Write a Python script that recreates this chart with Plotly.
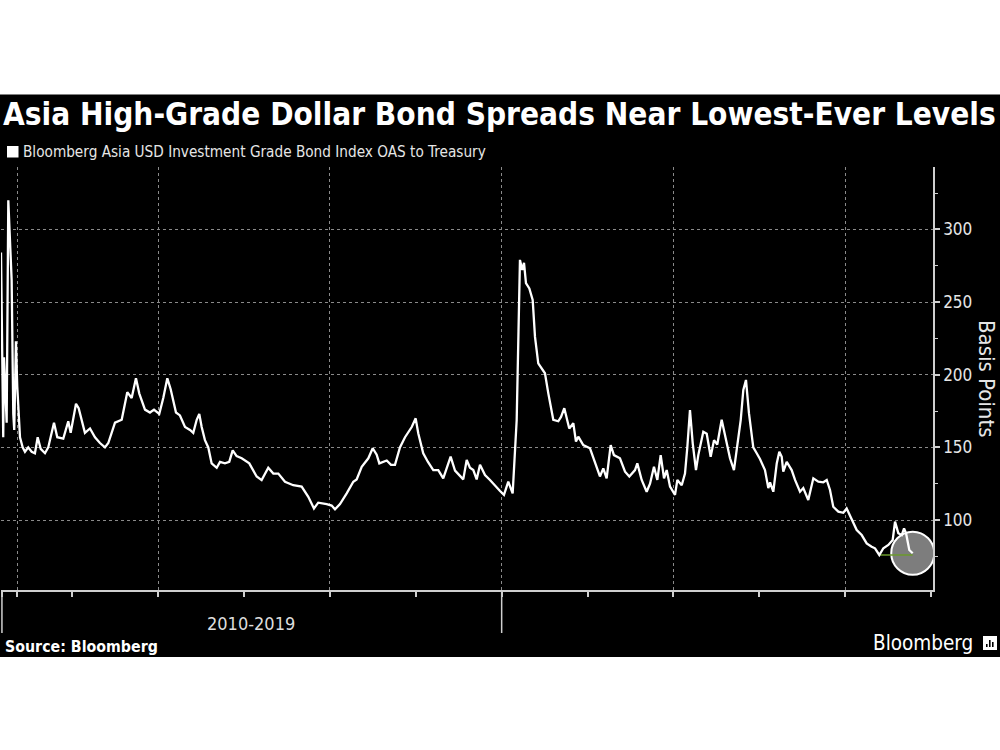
import plotly.graph_objects as go

# ---- data ----
years = [
    2014.172, 2014.198, 2014.207, 2014.222, 2014.238, 2014.257, 2014.276, 2014.296, 2014.315, 2014.326,
    2014.346, 2014.361, 2014.393, 2014.424, 2014.451, 2014.489, 2014.529, 2014.567, 2014.599, 2014.634,
    2014.684, 2014.722, 2014.789, 2014.827, 2014.897, 2014.955, 2014.983, 2015.045, 2015.076, 2015.149,
    2015.208, 2015.266, 2015.324, 2015.382, 2015.421, 2015.499, 2015.577, 2015.642, 2015.693, 2015.743,
    2015.782, 2015.848, 2015.906, 2015.953, 2016.014, 2016.061, 2016.108, 2016.147, 2016.209, 2016.255,
    2016.314, 2016.372, 2016.410, 2016.450, 2016.480, 2016.508, 2016.546, 2016.585, 2016.624, 2016.683,
    2016.721, 2016.779, 2016.829, 2016.869, 2016.915, 2016.974, 2017.062, 2017.148, 2017.206, 2017.283,
    2017.342, 2017.400, 2017.478, 2017.574, 2017.672, 2017.749, 2017.815, 2017.865, 2017.963, 2018.021,
    2018.060, 2018.118, 2018.196, 2018.273, 2018.312, 2018.371, 2018.448, 2018.499, 2018.545, 2018.576,
    2018.662, 2018.712, 2018.758, 2018.816, 2018.875, 2018.953, 2018.999, 2019.029, 2019.087, 2019.142,
    2019.204, 2019.262, 2019.320, 2019.360, 2019.406, 2019.457, 2019.515, 2019.553, 2019.593, 2019.631,
    2019.670, 2019.709, 2019.748, 2019.806, 2019.864, 2019.942, 2019.981, 2020.027, 2020.077, 2020.128,
    2020.155, 2020.175, 2020.196, 2020.213, 2020.240, 2020.260, 2020.283, 2020.322, 2020.361, 2020.388,
    2020.426, 2020.466, 2020.504, 2020.543, 2020.601, 2020.659, 2020.691, 2020.729, 2020.787, 2020.834,
    2020.865, 2020.892, 2020.950, 2021.028, 2021.086, 2021.144, 2021.183, 2021.222, 2021.269, 2021.307,
    2021.377, 2021.436, 2021.486, 2021.552, 2021.579, 2021.630, 2021.688, 2021.727, 2021.773, 2021.812,
    2021.851, 2021.890, 2021.921, 2021.960, 2022.018, 2022.045, 2022.096, 2022.134, 2022.161, 2022.192,
    2022.224, 2022.262, 2022.289, 2022.347, 2022.387, 2022.433, 2022.472, 2022.510, 2022.561, 2022.600,
    2022.658, 2022.704, 2022.736, 2022.783, 2022.813, 2022.844, 2022.879, 2022.929, 2022.969, 2023.007,
    2023.065, 2023.104, 2023.124, 2023.162, 2023.202, 2023.232, 2023.260, 2023.278, 2023.318, 2023.376,
    2023.415, 2023.473, 2023.511, 2023.569, 2023.628, 2023.686, 2023.744, 2023.784, 2023.822, 2023.860,
    2023.919, 2023.977, 2024.016, 2024.075, 2024.133, 2024.191, 2024.249, 2024.307, 2024.346, 2024.396,
    2024.443, 2024.501, 2024.552, 2024.579, 2024.617, 2024.657, 2024.684, 2024.707, 2024.745, 2024.785,
]
spread_bp = [
    284, 157, 212, 187, 167, 320, 290, 265, 173, 162,
    223, 192, 157, 150, 147, 150, 147, 146, 157, 149,
    146, 150, 167, 157, 156, 168, 160, 180, 177, 160,
    163, 157, 153, 150, 153, 167, 169, 188, 184, 197.5,
    187, 176, 174, 176, 173, 184, 197.5, 190, 174, 172,
    164, 162, 160, 169, 173, 164, 155, 150, 139, 136,
    140, 139, 140, 148, 144, 142.5, 139, 130, 127.5, 136,
    132, 132, 126.4, 124, 123, 116, 108, 112, 111, 110,
    107.4, 111, 118.4, 126.4, 128, 136.7, 142.5, 149.4, 145, 139,
    141, 138, 138, 150, 157, 164, 170, 159.7, 146, 140,
    134.4, 134.4, 128.7, 136, 143.6, 134, 130, 128, 141.3, 136,
    134.4, 128, 138, 131, 127.6, 122, 120, 117.3, 126.4, 118.4,
    143.6, 169, 230, 279, 272, 277, 263, 259.4, 251.4, 226,
    207.8, 204.4, 201, 187.2, 169, 168, 171, 177, 163, 166.6,
    154, 157.4, 151.6, 149.4, 139, 130, 135.6, 128.7, 151.6, 144.7,
    142.5, 133.3, 130, 134.4, 139, 127.6, 119.5, 125, 136.7, 127.6,
    144.7, 128.7, 134.4, 123, 117.3, 127.6, 124, 132, 150, 175.7,
    152.8, 134.4, 144.7, 160.8, 159.4, 143.6, 155, 152, 169, 157.4,
    142.5, 134.4, 150, 169, 189.5, 196.4, 173.4, 150, 146, 142,
    134.4, 122, 126, 119.5, 139, 147, 143.6, 133.3, 140, 134.4,
    127.6, 119.5, 122, 113.8, 128.7, 126.4, 126, 127.6, 120.7, 109.2,
    105.8, 105, 108, 100, 93.2, 89.7, 84, 81.7, 80.6, 76,
    80.6, 82.9, 86.3, 98.9, 91, 89.7, 94.3, 91, 79.4, 77.2,
]
y_ticks = [100, 150, 200, 250, 300]
x_grid_ticks = [2014.183, 2014.361, 2016, 2018, 2020, 2022, 2024]
x_minor_ticks = [2015, 2017, 2019, 2021, 2023, 2025]
decade_marks = [2014.183, 2020]

title_text = "Asia High-Grade Dollar Bond Spreads Near Lowest-Ever Levels"
legend_text = "Bloomberg Asia USD Investment Grade Bond Index OAS to Treasury"
axis_title = "Basis Points"
decade_label = "2010-2019"
source_text = "Source: Bloomberg"
brand_text = "Bloomberg"

# ---- layout geometry ----
W, H = 1000, 750
ML, MR, MT, MB = 1, 67, 167, 160
PW, PH = W - ML - MR, H - MT - MB

def px_x(x):
    return (x - ML) / PW

def px_y(y):
    return (H - MB - y) / PH

FONT = "DejaVu Sans Condensed, DejaVu Sans"
AXIS_COL = "#cfcfcf"
GRID_COL = "#8a8a8a"

fig = go.Figure()

# marker line from lowest point to last point
i_min = spread_bp.index(min(spread_bp))
fig.add_trace(go.Scatter(
    x=[years[i_min], years[-1]], y=[spread_bp[i_min], spread_bp[i_min]],
    mode="lines", line=dict(color="#6b9a2c", width=1.6), hoverinfo="skip"))

fig.add_trace(go.Scatter(
    x=years, y=spread_bp, mode="lines",
    line=dict(color="white", width=2.3), name=legend_text))

shapes = [
    # black panel
    dict(type="rect", xref="paper", yref="paper",
         x0=px_x(-5), x1=px_x(1005), y0=px_y(657), y1=px_y(94.5),
         fillcolor="black", line=dict(width=0), layer="below"),
    # legend swatch
    dict(type="rect", xref="paper", yref="paper",
         x0=px_x(7), x1=px_x(18.5), y0=px_y(157.5), y1=px_y(146),
         fillcolor="white", line=dict(width=0)),
    # highlight circle at last point
    dict(type="circle", xref="x", yref="y", xsizemode="pixel", ysizemode="pixel",
         xanchor=years[-1], yanchor=spread_bp[-1],
         x0=-21.5, x1=21.5, y0=-21.5, y1=21.5,
         fillcolor="#7d7d7d", line=dict(color="white", width=2), layer="below"),
    # logo icon
    dict(type="rect", xref="paper", yref="paper",
         x0=px_x(983), x1=px_x(997), y0=px_y(650), y1=px_y(636),
         fillcolor="white", line=dict(width=0)),
]
for bx, top in [(986, 644), (989, 640), (992, 642)]:
    shapes.append(dict(type="rect", xref="paper", yref="paper",
                       x0=px_x(bx), x1=px_x(bx + 1.6), y0=px_y(647), y1=px_y(top),
                       fillcolor="black", line=dict(width=0)))
for xm in decade_marks:
    shapes.append(dict(type="line", xref="x", yref="paper",
                       x0=xm, x1=xm, y0=0, y1=px_y(633),
                       line=dict(color=AXIS_COL, width=1.5)))

annotations = [
    dict(text="<b>" + title_text + "</b>", x=px_x(1), y=px_y(114),
         xanchor="left", yanchor="middle", font=dict(family=FONT, size=31.3, color="white")),
    dict(text=legend_text, x=px_x(20.5), y=px_y(152.5),
         xanchor="left", yanchor="middle", font=dict(family=FONT, size=15.2, color="#e6e6e6")),
    dict(text=axis_title, x=px_x(987), y=px_y(379), textangle=90,
         xanchor="center", yanchor="middle", font=dict(family=FONT, size=22, color="#e6e6e6")),
    dict(text=decade_label, x=px_x(251), y=px_y(623),
         xanchor="center", yanchor="middle", font=dict(family=FONT, size=18, color="#dddddd")),
    dict(text="<b>" + source_text + "</b>", x=px_x(3), y=px_y(646),
         xanchor="left", yanchor="middle", font=dict(family=FONT, size=15.8, color="white")),
    dict(text=brand_text, x=px_x(975), y=px_y(643),
         xanchor="right", yanchor="middle", font=dict(family=FONT, size=20.5, color="white")),
]
for a in annotations:
    a.update(xref="paper", yref="paper", showarrow=False)

fig.update_layout(
    width=W, height=H,
    margin=dict(l=ML, r=MR, t=MT, b=MB, pad=0),
    paper_bgcolor="white", plot_bgcolor="black",
    showlegend=False,
    shapes=shapes, annotations=annotations,
    xaxis=dict(
        range=[2014.172, 2025.021], tickvals=x_grid_ticks, showticklabels=False,
        ticks="outside", ticklen=5, tickwidth=1.5, tickcolor=AXIS_COL,
        showgrid=True, gridcolor=GRID_COL, griddash="dot", gridwidth=1,
        showline=True, linecolor=AXIS_COL, linewidth=1.5, zeroline=False,
        minor=dict(tickvals=x_minor_ticks, ticks="outside", ticklen=5,
                   tickwidth=1.5, tickcolor=AXIS_COL, showgrid=False),
    ),
    yaxis=dict(
        side="right", range=[51.9, 342.9], tickvals=y_ticks,
        ticks="outside", ticklen=5, tickwidth=1.5, tickcolor=AXIS_COL,
        tickfont=dict(family=FONT, size=17, color="#e6e6e6"),
        showgrid=True, gridcolor=GRID_COL, griddash="dot", gridwidth=1,
        showline=True, linecolor=AXIS_COL, linewidth=1.5, zeroline=False,
        minor=dict(dtick=25, tick0=0, ticks="outside", ticklen=3,
                   tickwidth=1.2, tickcolor=AXIS_COL, showgrid=False),
    ),
)

fig.write_html(
    "out.html",
    config={"displayModeBar": False},
    post_script="document.body.style.margin='0';document.body.style.overflow='hidden';",
)
